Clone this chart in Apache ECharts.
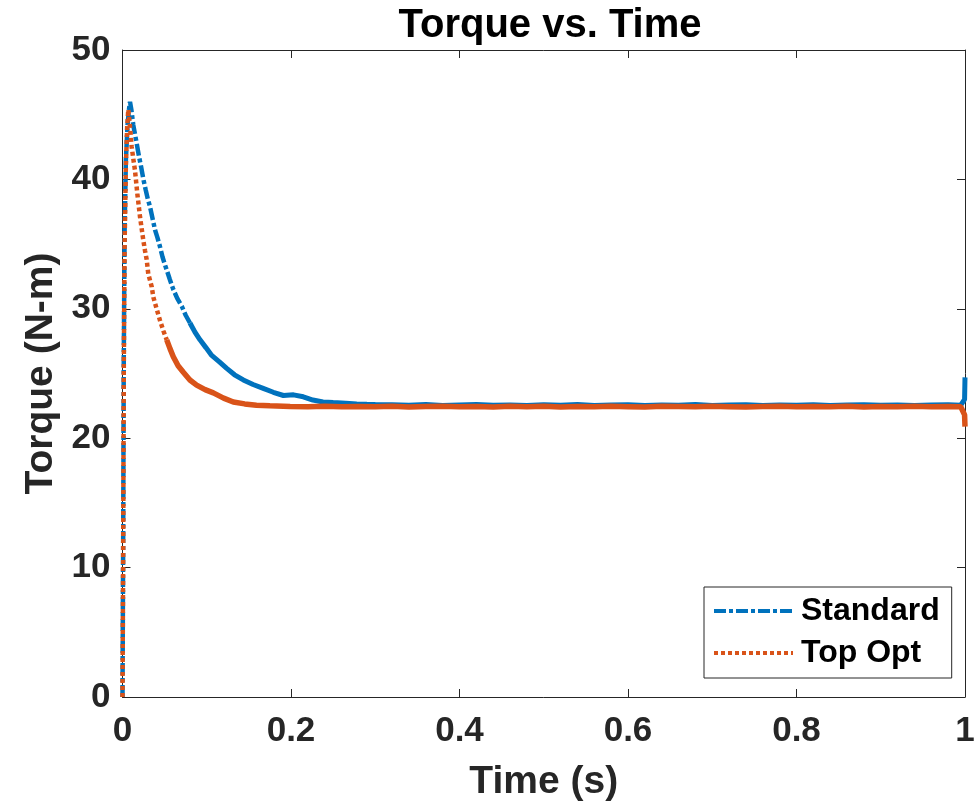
<!DOCTYPE html>
<html>
<head>
<meta charset="utf-8">
<script src="https://cdn.jsdelivr.net/npm/echarts@6/dist/echarts.min.js"></script>
<style>
html,body{margin:0;padding:0;background:#fff;}
#chart{width:979px;height:811px;}
</style>
</head>
<body>
<div id="chart"></div>
<script>
// ---- Data ----
const xTicks = [0, 0.2, 0.4, 0.6, 0.8, 1];
const yTicks = [0, 10, 20, 30, 40, 50];

const stdTime = [0, 0.0008, 0.0015, 0.0025, 0.004, 0.006, 0.0075, 0.0089, 0.0105, 0.0128, 0.0148, 0.0168, 0.0195, 0.022, 0.0248, 0.0275, 0.03, 0.0326, 0.0356, 0.0386, 0.0415, 0.0445, 0.0475, 0.0504, 0.0525, 0.056, 0.0603, 0.065, 0.0703, 0.075, 0.0801,
  0.086, 0.092, 0.099, 0.1059, 0.115, 0.1237, 0.133, 0.1434, 0.155, 0.167, 0.179, 0.191, 0.203, 0.2146, 0.226, 0.238, 0.25, 0.265, 0.278, 0.29, 0.30,
  0.32, 0.34, 0.36, 0.38, 0.40, 0.42, 0.44, 0.46, 0.48, 0.50, 0.52, 0.54, 0.56, 0.58, 0.60, 0.62, 0.64, 0.66, 0.68, 0.70, 0.72, 0.74, 0.76, 0.78, 0.80, 0.82, 0.84, 0.86, 0.88, 0.90, 0.92, 0.94, 0.96, 0.98, 0.995, 0.9995, 1.0];
const stdTorque = [0, 12, 26, 36, 41.5, 44.2, 45.3, 46.0, 45.4, 44.2, 43.5, 42.8, 41.8, 41.0, 40.0, 39.2, 38.5, 37.9, 37.0, 36.1, 35.5, 34.8, 34.0, 33.4, 33.0, 32.3, 31.5, 30.8, 30.2, 29.5, 28.9,
  28.2, 27.6, 27.0, 26.4, 25.9, 25.4, 24.9, 24.5, 24.15, 23.85, 23.55, 23.3, 23.35, 23.2, 22.95, 22.8, 22.75, 22.7, 22.65, 22.62, 22.6,
  22.58, 22.55, 22.6, 22.52, 22.56, 22.6, 22.54, 22.57, 22.52, 22.58, 22.55, 22.6, 22.53, 22.56, 22.58, 22.52, 22.57, 22.55, 22.6, 22.53, 22.56, 22.58, 22.52, 22.57, 22.55, 22.59, 22.53, 22.56, 22.58, 22.54, 22.57, 22.52, 22.56, 22.58, 22.55, 23.0, 24.7];

const optTime = [0, 0.0008, 0.0015, 0.0025, 0.004, 0.0055, 0.0069, 0.0089, 0.0109, 0.0128, 0.0148, 0.0176, 0.0208, 0.0247, 0.0267, 0.0287, 0.0306, 0.0347, 0.0366, 0.0405, 0.0445, 0.0485, 0.0525,
  0.0565, 0.0603, 0.066, 0.0722, 0.08, 0.088, 0.098, 0.1078, 0.12, 0.1315, 0.145, 0.159, 0.175, 0.199, 0.22, 0.24, 0.26, 0.28, 0.30,
  0.32, 0.34, 0.36, 0.38, 0.40, 0.42, 0.44, 0.46, 0.48, 0.50, 0.52, 0.54, 0.56, 0.58, 0.60, 0.62, 0.64, 0.66, 0.68, 0.70, 0.72, 0.74, 0.76, 0.78, 0.80, 0.82, 0.84, 0.86, 0.88, 0.90, 0.92, 0.94, 0.96, 0.98, 0.995, 0.9995, 1.0];
const optTorque = [0, 11, 25, 35, 41, 44, 45.4, 44.1, 42.5, 41.6, 40.7, 38.9, 37.1, 35.3, 34.5, 33.8, 32.7, 31.7, 30.9, 30.0, 29.1, 28.3, 27.6,
  26.9, 26.3, 25.6, 25.1, 24.5, 24.1, 23.75, 23.5, 23.1, 22.8, 22.65, 22.55, 22.5, 22.45, 22.44, 22.46, 22.43, 22.45, 22.44,
  22.46, 22.42, 22.45, 22.47, 22.43, 22.45, 22.41, 22.46, 22.44, 22.47, 22.42, 22.45, 22.43, 22.46, 22.44, 22.42, 22.47, 22.45, 22.43, 22.46, 22.44, 22.42, 22.45, 22.47, 22.43, 22.45, 22.44, 22.46, 22.42, 22.45, 22.43, 22.46, 22.44, 22.45, 22.43, 21.8, 20.9];

const seriesNames = ['Standard', 'Top Opt'];

// ---- Build chart ----
function pairs(t, v, from, to) {
  const out = [];
  for (let i = from; i <= to; i++) out.push([t[i], v[i]]);
  return out;
}
// transient part drawn with the dash pattern, noisy steady part looks solid
const stdSplit = 30, optSplit = 22;

const blue = '#0072BD', orange = '#D95319', axisCol = '#262626';
const font = 'Liberation Sans, Arial, sans-serif';

const chart = echarts.init(document.getElementById('chart'), null, {renderer: 'canvas'});
const xBase = {
  type: 'value', min: xTicks[0], max: xTicks[xTicks.length - 1], interval: 0.2,
  axisLine: {show: true, onZero: false, lineStyle: {color: axisCol, width: 1}},
  axisTick: {show: true, inside: true, length: 8, lineStyle: {color: axisCol, width: 1}},
  splitLine: {show: false}
};
const yBase = {
  type: 'value', min: yTicks[0], max: yTicks[yTicks.length - 1], interval: 10,
  axisLine: {show: true, onZero: false, lineStyle: {color: axisCol, width: 1}},
  axisTick: {show: true, inside: true, length: 8, lineStyle: {color: axisCol, width: 1}},
  splitLine: {show: false}
};

chart.setOption({
  animation: false,
  backgroundColor: '#fff',
  title: {
    text: 'Torque vs. Time', left: 545, top: 1, textAlign: 'center',
    textStyle: {fontFamily: font, fontWeight: 'bold', fontSize: 40, color: '#000'}
  },
  grid: {left: 122.5, right: 14, top: 50, bottom: 114},
  legend: {
    data: seriesNames, orient: 'vertical', left: 704, top: 587,
    padding: [8, 12, 9, 8], itemGap: 10, itemWidth: 79, itemHeight: 14,
    backgroundColor: '#fff', borderColor: axisCol, borderWidth: 1, borderRadius: 0,
    itemStyle: {opacity: 0, borderWidth: 0},
    lineStyle: {width: 4},
    textStyle: {fontFamily: font, fontWeight: 'bold', fontSize: 32, color: '#000', padding: [0, 0, 0, 3], lineHeight: 32},
    selectedMode: false
  },
  xAxis: [
    Object.assign({}, xBase, {
      position: 'bottom', name: 'Time (s)', nameLocation: 'middle', nameGap: 66,
      nameTextStyle: {fontFamily: font, fontWeight: 'bold', fontSize: 39, color: axisCol},
      axisLabel: {show: true, margin: 17, fontFamily: font, fontWeight: 'bold', fontSize: 35, color: axisCol}
    }),
    Object.assign({}, xBase, {position: 'top', axisLabel: {show: false}})
  ],
  yAxis: [
    Object.assign({}, yBase, {
      position: 'left', name: 'Torque (N-m)', nameLocation: 'middle', nameGap: 59, nameRotate: 90,
      nameTextStyle: {fontFamily: font, fontWeight: 'bold', fontSize: 39, color: axisCol},
      axisLabel: {show: true, margin: 12, fontFamily: font, fontWeight: 'bold', fontSize: 35, color: axisCol}
    }),
    Object.assign({}, yBase, {position: 'right', axisLabel: {show: false}})
  ],
  series: [
    {
      name: 'Standard', type: 'line', xAxisIndex: 0, yAxisIndex: 0, symbol: 'none', showSymbol: false,
      data: pairs(stdTime, stdTorque, 0, stdSplit),
      lineStyle: {color: blue, width: 4.5, type: [12, 3, 4, 3], cap: 'butt'}, itemStyle: {color: blue}, z: 2
    },
    {
      name: 'Standard', type: 'line', xAxisIndex: 0, yAxisIndex: 0, symbol: 'none', showSymbol: false,
      data: pairs(stdTime, stdTorque, stdSplit, stdTime.length - 1),
      lineStyle: {color: blue, width: 5, type: 'solid'}, itemStyle: {color: blue}, z: 2
    },
    {
      name: 'Top Opt', type: 'line', xAxisIndex: 0, yAxisIndex: 0, symbol: 'none', showSymbol: false,
      data: pairs(optTime, optTorque, 0, optSplit),
      lineStyle: {color: orange, width: 4.5, type: [4, 3], cap: 'butt'}, itemStyle: {color: orange}, z: 3
    },
    {
      name: 'Top Opt', type: 'line', xAxisIndex: 0, yAxisIndex: 0, symbol: 'none', showSymbol: false,
      data: pairs(optTime, optTorque, optSplit, optTime.length - 1),
      lineStyle: {color: orange, width: 5.5, type: 'solid'}, itemStyle: {color: orange}, z: 3
    }
  ]
});
</script>
</body>
</html>
